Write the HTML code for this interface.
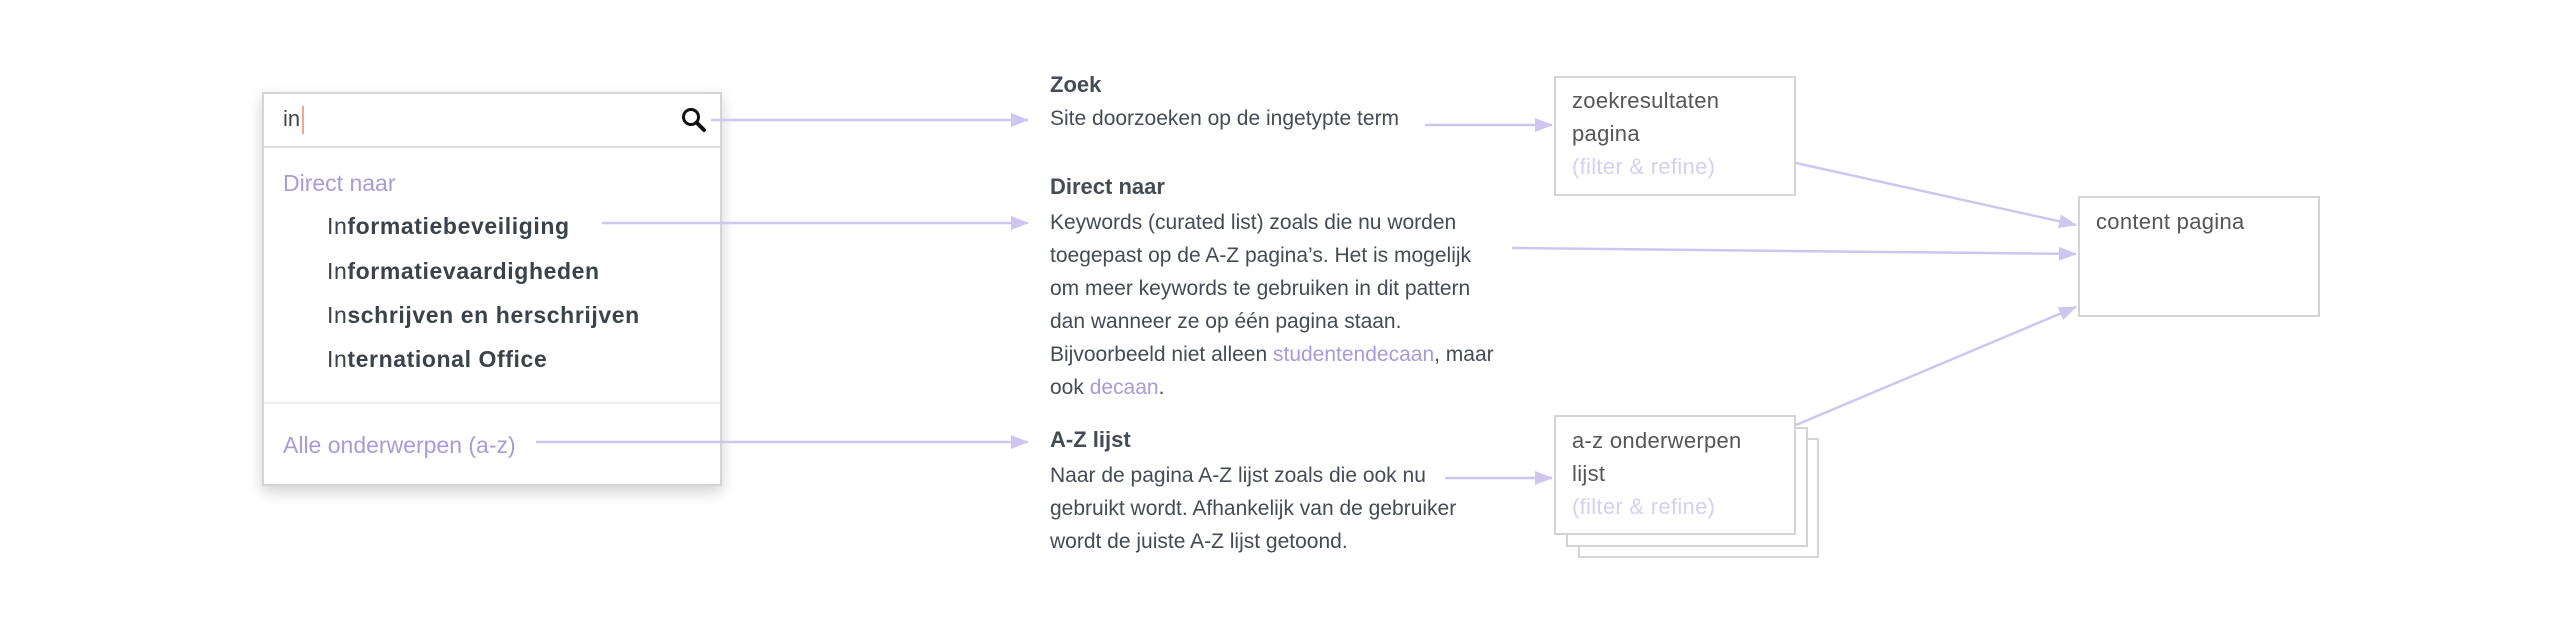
<!DOCTYPE html>
<html><head><meta charset="utf-8"><style>
body{margin:0;width:2560px;height:624px;background:#fff;position:relative;overflow:hidden;font-family:"Liberation Sans",sans-serif;color:#454b54}
.a{position:absolute;white-space:nowrap}
.box{position:absolute;border:2px solid #d4d4d4;background:#fff;box-sizing:border-box}
.b{font-size:21px;line-height:33px}
.h{font-weight:bold;font-size:22px}
.p{color:#a99ad8}
.it{font-size:23px;font-weight:bold;letter-spacing:.6px;color:#3c424a}
.it span{font-weight:normal}
.bt{font-size:22px;line-height:33px;color:#555;letter-spacing:.3px}
</style></head><body>
<div class="box" style="left:262px;top:92px;width:460px;height:394px;box-shadow:0 6px 14px rgba(0,0,0,.18)"></div>
<div class="a" style="left:264px;top:146px;width:456px;height:2px;background:#ddd"></div>
<div class="a" style="left:264px;top:402px;width:456px;height:2px;background:#eee"></div>
<div class="a" style="left:283px;top:106px;font-size:22px;color:#444">in</div>
<div class="a" style="left:302px;top:106px;width:2px;height:28px;background:#f0a890"></div>
<svg class="a" style="left:680px;top:106px" width="30" height="30"><circle cx="11" cy="11" r="7.5" fill="none" stroke="#111" stroke-width="3"/><line x1="16.5" y1="16.5" x2="24" y2="24" stroke="#111" stroke-width="4" stroke-linecap="round"/></svg>
<div class="a p" style="left:283px;top:170px;font-size:23px">Direct naar</div>
<div class="a it" style="left:327px;top:213px"><span>In</span>formatiebeveiliging</div>
<div class="a it" style="left:327px;top:258px"><span>In</span>formatievaardigheden</div>
<div class="a it" style="left:327px;top:302px"><span>In</span>schrijven en herschrijven</div>
<div class="a it" style="left:327px;top:346px"><span>In</span>ternational Office</div>
<div class="a p" style="left:283px;top:432px;font-size:23px">Alle onderwerpen (a-z)</div>

<div class="a h" style="left:1050px;top:72px">Zoek</div>
<div class="a b" style="left:1050px;top:102px">Site doorzoeken op de ingetypte term</div>
<div class="a h" style="left:1050px;top:174px">Direct naar</div>
<div class="a b" style="left:1050px;top:206px">Keywords (curated list) zoals die nu worden<br>toegepast op de A-Z pagina’s. Het is mogelijk<br>om meer keywords te gebruiken in dit pattern<br>dan wanneer ze op één pagina staan.<br>Bijvoorbeeld niet alleen <span class="p">studentendecaan</span>, maar<br>ook <span class="p">decaan</span>.</div>
<div class="a h" style="left:1050px;top:427px">A-Z lijst</div>
<div class="a b" style="left:1050px;top:459px">Naar de pagina A-Z lijst zoals die ook nu<br>gebruikt wordt. Afhankelijk van de gebruiker<br>wordt de juiste A-Z lijst getoond.</div>

<div class="box" style="left:1554px;top:76px;width:242px;height:120px"></div>
<div class="a bt" style="left:1572px;top:84px">zoekresultaten<br>pagina<br><span style="color:#d6cff0">(filter &amp; refine)</span></div>
<div class="box" style="left:2078px;top:196px;width:242px;height:121px"></div>
<div class="a bt" style="left:2096px;top:205px">content pagina</div>
<div class="box" style="left:1578px;top:438px;width:241px;height:120px"></div>
<div class="box" style="left:1566px;top:427px;width:242px;height:120px"></div>
<div class="box" style="left:1554px;top:415px;width:242px;height:120px"></div>
<div class="a bt" style="left:1572px;top:424px">a-z onderwerpen<br>lijst<br><span style="color:#d6cff0">(filter &amp; refine)</span></div>

<svg class="a" style="left:0;top:0" width="2560" height="624">
<defs><marker id="m" markerWidth="18" markerHeight="14" refX="17" refY="7" orient="auto" markerUnits="userSpaceOnUse"><path d="M0,0 L18,7 L0,14 Z" fill="#cfc6f0"/></marker></defs>
<g stroke="#cfc6f0" stroke-width="2.5" fill="none" marker-end="url(#m)">
<line x1="711" y1="120" x2="1028" y2="120"/>
<line x1="602" y1="223" x2="1028" y2="223"/>
<line x1="536" y1="442" x2="1028" y2="442"/>
<line x1="1425" y1="125" x2="1552" y2="125"/>
<line x1="1445" y1="478" x2="1552" y2="478"/>
<line x1="1796" y1="163" x2="2076" y2="225"/>
<line x1="1512" y1="248" x2="2076" y2="254"/>
<line x1="1796" y1="425" x2="2076" y2="307"/>
</g></svg>
</body></html>
